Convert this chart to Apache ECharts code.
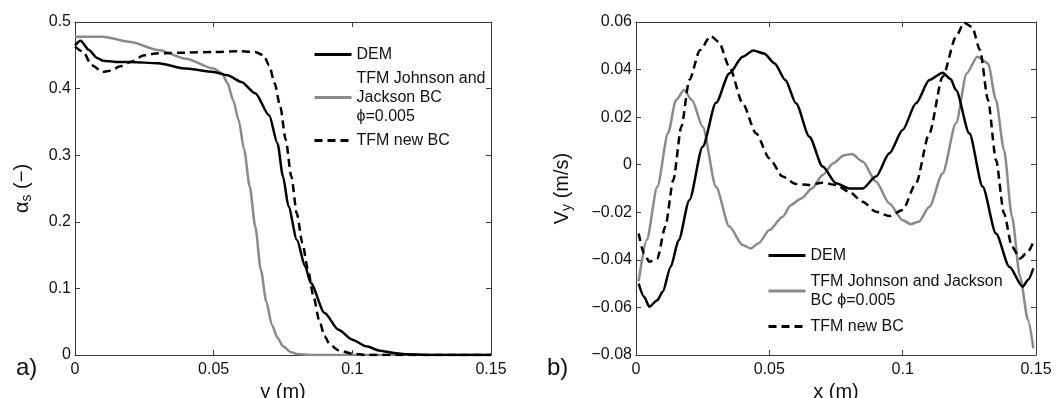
<!DOCTYPE html>
<html>
<head>
<meta charset="utf-8">
<script src="https://cdn.jsdelivr.net/npm/echarts@6/dist/echarts.min.js"></script>
<style>
html,body{margin:0;padding:0;background:#fff;}
#chart{width:1059px;height:398px;}
</style>
</head>
<body>
<div id="chart"></div>
<script>
// ---- tick labels ----
const xTicks = [0, 0.05, 0.1, 0.15];
const alphaTicks = [0, 0.1, 0.2, 0.3, 0.4, 0.5];
const vyTicks = [-0.08, -0.06, -0.04, -0.02, 0, 0.02, 0.04, 0.06];

// ---- legend names ----
const nameDEM = 'DEM';
const nameJJ = 'TFM Johnson and Jackson BC \u03d5=0.005';
const nameNew = 'TFM new BC';

// ---- (a) solid volume fraction vs y ----
const demAlpha = [[0,0.465],[0.002,0.472],[0.005,0.458],[0.008,0.446],[0.01,0.442],[0.015,0.44],[0.02,0.44],[0.03,0.438],[0.04,0.43],[0.05,0.425],[0.055,0.42],[0.06,0.41],[0.065,0.393],[0.07,0.36],[0.073,0.318],[0.075,0.268],[0.077,0.223],[0.08,0.173],[0.083,0.133],[0.085,0.108],[0.09,0.063],[0.095,0.038],[0.1,0.023],[0.105,0.013],[0.11,0.0065],[0.115,0.003],[0.12,0.001],[0.13,0],[0.15,0]];
const jjAlpha = [[0,0.478],[0.005,0.478],[0.01,0.478],[0.02,0.47],[0.03,0.458],[0.04,0.445],[0.05,0.43],[0.053,0.423],[0.055,0.408],[0.057,0.383],[0.059,0.353],[0.061,0.308],[0.063,0.253],[0.065,0.193],[0.067,0.128],[0.069,0.08],[0.071,0.045],[0.073,0.026],[0.075,0.013],[0.078,0.004],[0.08,0.0015],[0.085,0],[0.15,0]];
const newAlpha = [[0,0.463],[0.003,0.455],[0.006,0.435],[0.01,0.425],[0.013,0.427],[0.016,0.433],[0.02,0.44],[0.025,0.45],[0.03,0.453],[0.04,0.454],[0.05,0.455],[0.06,0.456],[0.065,0.455],[0.068,0.45],[0.07,0.435],[0.072,0.408],[0.074,0.373],[0.076,0.323],[0.078,0.268],[0.08,0.212],[0.082,0.168],[0.084,0.128],[0.086,0.088],[0.088,0.053],[0.09,0.028],[0.092,0.015],[0.095,0.007],[0.1,0.002],[0.105,0],[0.15,0]];

// ---- (b) vertical velocity vs x ----
const demVy = [[0.001,-0.05],[0.003,-0.0555],[0.005,-0.0597],[0.008,-0.057],[0.01,-0.0534],[0.013,-0.043],[0.016,-0.0317],[0.02,-0.0149],[0.025,0.0076],[0.03,0.026],[0.035,0.0384],[0.04,0.0454],[0.044,0.048],[0.048,0.0468],[0.052,0.0426],[0.056,0.0356],[0.06,0.0258],[0.065,0.0118],[0.07,-0.0008],[0.075,-0.0078],[0.08,-0.01],[0.085,-0.01],[0.09,-0.005],[0.095,0.0048],[0.1,0.0146],[0.105,0.0258],[0.11,0.0356],[0.115,0.0387],[0.118,0.036],[0.12,0.0314],[0.125,0.0132],[0.13,-0.0093],[0.135,-0.0289],[0.14,-0.0429],[0.145,-0.0513],[0.147,-0.0485],[0.149,-0.0436]];
const jjVy = [[0.001,-0.049],[0.004,-0.0317],[0.008,-0.0093],[0.012,0.0132],[0.015,0.0272],[0.018,0.0314],[0.021,0.0272],[0.025,0.016],[0.03,-0.0093],[0.035,-0.026],[0.04,-0.0338],[0.043,-0.0352],[0.046,-0.033],[0.05,-0.0275],[0.055,-0.0219],[0.058,-0.017],[0.062,-0.0142],[0.066,-0.01],[0.07,-0.0043],[0.074,0.0006],[0.078,0.004],[0.081,0.0045],[0.085,0.0013],[0.09,-0.0071],[0.095,-0.0163],[0.1,-0.0233],[0.103,-0.025],[0.106,-0.024],[0.11,-0.0177],[0.115,-0.0036],[0.12,0.0174],[0.124,0.0384],[0.128,0.0454],[0.132,0.0426],[0.135,0.0272],[0.138,0.0062],[0.141,-0.0219],[0.144,-0.047],[0.147,-0.0653],[0.149,-0.0772]];
const newVy = [[0.001,-0.0289],[0.003,-0.0373],[0.005,-0.0408],[0.008,-0.0394],[0.011,-0.026],[0.014,-0.0064],[0.017,0.016],[0.02,0.0356],[0.024,0.0482],[0.028,0.0541],[0.031,0.0517],[0.035,0.0412],[0.04,0.0258],[0.045,0.0132],[0.05,0.0027],[0.055,-0.005],[0.06,-0.0081],[0.065,-0.0085],[0.07,-0.0076],[0.075,-0.0085],[0.08,-0.0114],[0.085,-0.0156],[0.09,-0.0198],[0.095,-0.0216],[0.1,-0.019],[0.105,-0.0078],[0.11,0.0132],[0.115,0.037],[0.12,0.0538],[0.123,0.0597],[0.126,0.058],[0.129,0.0482],[0.132,0.0272],[0.135,0.002],[0.138,-0.0205],[0.141,-0.0345],[0.144,-0.0394],[0.147,-0.0366],[0.149,-0.0324]];

const FONT = '"Liberation Sans", Arial, Helvetica, sans-serif';
const AX = '#3a3a3a';
const BLACK = '#000000';
const GREY = '#8a8a8a';

function fmtTick(v) {
  return String(+v.toFixed(4)).replace('-', '\u2212');
}

function valAxis(opts) {
  const ticks = opts.ticks;
  return Object.assign({
    type: 'value',
    min: ticks[0],
    max: ticks[ticks.length - 1],
    interval: +(ticks[1] - ticks[0]).toFixed(6),
    axisLine: { show: true, onZero: false, lineStyle: { color: AX, width: 1 } },
    axisTick: { show: true, inside: true, length: 5, lineStyle: { color: AX, width: 1 } },
    splitLine: { show: false },
    axisLabel: { show: true, color: '#111', fontSize: 16, fontFamily: FONT, margin: 4, formatter: fmtTick }
  }, opts.extra || {});
}

const hidden = { axisLabel: { show: false } };

const chart = echarts.init(document.getElementById('chart'), null, { renderer: 'canvas' });

const lineCommon = { type: 'line', showSymbol: false, symbol: 'none', smooth: 0.25, smoothMonotone: 'x', animation: false };

function S(name, data, xi, yi, color, dashed) {
  return Object.assign({}, lineCommon, {
    name: name, data: data, xAxisIndex: xi, yAxisIndex: yi,
    lineStyle: { color: color, width: 2.5, type: dashed ? [8, 5] : 'solid' },
    itemStyle: { color: color }
  });
}

const legendText = { fontSize: 16, fontFamily: FONT, color: '#111', lineHeight: 19 };
const legendHiddenSymbol = { opacity: 0, color: 'transparent', borderWidth: 0 };
const legendLine = { width: 3 };

chart.setOption({
  animation: false,
  textStyle: { fontFamily: FONT },
  grid: [
    { left: 75, top: 22, width: 416, height: 333, outerBoundsMode: 'none', containLabel: false },
    { left: 636, top: 22, width: 400, height: 333, outerBoundsMode: 'none', containLabel: false }
  ],
  xAxis: [
    valAxis({ ticks: xTicks, extra: { gridIndex: 0, position: 'bottom', name: 'y (m)', nameLocation: 'middle', nameGap: 24, nameTextStyle: { fontSize: 20, color: '#111', fontFamily: FONT }, axisLabel: { show: true, color: '#111', fontSize: 16, fontFamily: FONT, margin: 7, formatter: fmtTick } } }),
    valAxis({ ticks: xTicks, extra: { gridIndex: 1, position: 'bottom', name: 'x (m)', nameLocation: 'middle', nameGap: 24, nameTextStyle: { fontSize: 20, color: '#111', fontFamily: FONT }, axisLabel: { show: true, color: '#111', fontSize: 16, fontFamily: FONT, margin: 7, formatter: fmtTick } } }),
    valAxis({ ticks: xTicks, extra: Object.assign({ gridIndex: 0, position: 'top' }, hidden) }),
    valAxis({ ticks: xTicks, extra: Object.assign({ gridIndex: 1, position: 'top' }, hidden) })
  ],
  yAxis: [
    valAxis({ ticks: alphaTicks, extra: { gridIndex: 0, position: 'left',
      name: '{b|\u03b1}{s|s}{b| (\u2212)}', nameLocation: 'middle', nameGap: 41, nameRotate: 90,
      nameTextStyle: { color: '#111', fontFamily: FONT, rich: {
        b: { fontSize: 20, lineHeight: 24, color: '#111', fontFamily: FONT },
        s: { fontSize: 14, lineHeight: 12, verticalAlign: 'bottom', color: '#111', fontFamily: FONT }
      } } } }),
    valAxis({ ticks: vyTicks, extra: { gridIndex: 1, position: 'left',
      name: '{b|V}{s|y}{b| (m/s)}', nameLocation: 'middle', nameGap: 62, nameRotate: 90,
      nameTextStyle: { color: '#111', fontFamily: FONT, rich: {
        b: { fontSize: 20, lineHeight: 24, color: '#111', fontFamily: FONT },
        s: { fontSize: 14, lineHeight: 12, verticalAlign: 'bottom', color: '#111', fontFamily: FONT }
      } } } }),
    valAxis({ ticks: alphaTicks, extra: Object.assign({ gridIndex: 0, position: 'right' }, hidden) }),
    valAxis({ ticks: vyTicks, extra: Object.assign({ gridIndex: 1, position: 'right' }, hidden) })
  ],
  legend: [
    {
      left: 313, top: 45, padding: 0, orient: 'vertical', itemWidth: 37, itemHeight: 14, itemGap: 5,
      data: [nameDEM, nameJJ, nameNew], selectedMode: false,
      textStyle: legendText, itemStyle: legendHiddenSymbol, lineStyle: legendLine,
      formatter: function (n) { return n === nameJJ ? 'TFM Johnson and\nJackson BC\n\u03d5=0.005' : n; }
    },
    {
      left: 767, top: 246, padding: 0, orient: 'vertical', itemWidth: 37, itemHeight: 14, itemGap: 7,
      data: [nameDEM, nameJJ, nameNew], selectedMode: false,
      textStyle: legendText, itemStyle: legendHiddenSymbol, lineStyle: legendLine,
      formatter: function (n) { return n === nameJJ ? 'TFM Johnson and Jackson\nBC \u03d5=0.005' : n; }
    }
  ],
  graphic: [
    { type: 'text', left: 16, top: 356, style: { text: 'a)', fontSize: 24, fontFamily: FONT, fill: '#111' } },
    { type: 'text', left: 547, top: 356, style: { text: 'b)', fontSize: 24, fontFamily: FONT, fill: '#111' } }
  ],
  series: [
    S(nameJJ, jjAlpha, 0, 0, GREY, false),
    S(nameDEM, demAlpha, 0, 0, BLACK, false),
    S(nameNew, newAlpha, 0, 0, BLACK, true),
    S(nameJJ, jjVy, 1, 1, GREY, false),
    S(nameDEM, demVy, 1, 1, BLACK, false),
    S(nameNew, newVy, 1, 1, BLACK, true)
  ]
});
</script>
</body>
</html>
